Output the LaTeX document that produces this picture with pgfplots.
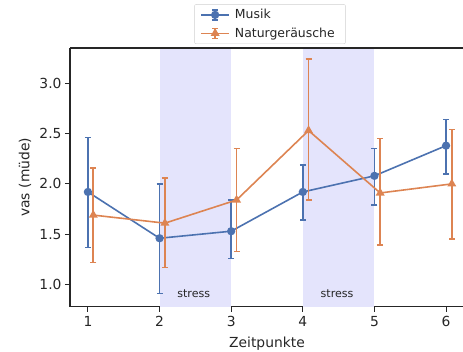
\documentclass[border=0pt]{standalone}
\usepackage{pgfplots}
\pgfplotsset{compat=1.18}
\usepackage{fontspec}
\setmainfont{DejaVu Sans}
\definecolor{sbblue}{RGB}{76,114,176}
\definecolor{sborange}{RGB}{221,132,82}
\definecolor{span}{RGB}{228,228,252}
\definecolor{dark}{RGB}{38,38,38}
\begin{document}
\begin{tikzpicture}
\useasboundingbox (0,0) rectangle (463bp,352bp);
\begin{axis}[
  at={(70bp,45.3bp)}, anchor=south west,
  scale only axis, width=394bp, height=258.7bp,
  xmin=0.75, xmax=6.25, ymin=0.78, ymax=3.35,
  axis x line*=bottom, axis y line*=left,
  axis line style={dark, line width=1.1bp},
  xtick={1,2,3,4,5,6}, ytick={1.0,1.5,2.0,2.5,3.0},
  yticklabel style={/pgf/number format/.cd, fixed, fixed zerofill, precision=1},
  /pgf/number format/assume math mode=true,
  tick align=outside, major tick length=5bp,
  tick style={dark, line width=1bp},
  ticklabel style={font=\fontsize{13.9}{16}\selectfont, text=dark},
  xticklabel style={yshift=-1bp},
  xlabel={Zeitpunkte}, ylabel={vas (müde)},
  label style={font=\fontsize{13.9}{16}\selectfont, text=dark},
  xlabel style={at={(rel axis cs:0.5,0)}, anchor=base, yshift=-40.7bp},
  ylabel style={at={(axis description cs:-0.1142,0.5)}, anchor=center},
  clip=false,
  legend style={at={(rel axis cs:0.5,1)}, anchor=south, yshift=4bp, xshift=3bp,
    draw=black!18, rounded corners=2bp, fill=white,
    font=\fontsize{12.5}{14}\selectfont, text=dark,
    row sep=3.5bp, inner xsep=6bp, inner ysep=3bp,
    nodes={inner xsep=5bp}},
  legend cell align=left,
  legend image code/.code={
    \draw[#1] (0bp,0bp) -- (28bp,0bp);
    \draw[#1] (14bp,-5bp) -- (14bp,5bp) (11bp,5bp) -- (17bp,5bp) (11bp,-5bp) -- (17bp,-5bp);
    \draw[mark repeat=2,mark phase=2,#1] plot coordinates {(0bp,0bp) (14bp,0bp) (28bp,0bp)};
  },
]
\fill[span] (axis cs:2,0.78) rectangle (axis cs:3,3.35);
\fill[span] (axis cs:4,0.78) rectangle (axis cs:5,3.35);
\draw[dark, line width=1.1bp] (rel axis cs:0,1) -- (rel axis cs:1.01,1);
\node[anchor=base west, font=\fontsize{11.1}{13}\selectfont, text=dark] at (axis cs:2.2,0.868) {stress};
\node[anchor=base west, font=\fontsize{11.1}{13}\selectfont, text=dark] at (axis cs:4.2,0.868) {stress};
\addplot[sbblue, line width=1.6bp, mark=*, mark size=3.3bp, mark options={solid, fill=sbblue},
  error bars/.cd, y dir=both, y explicit, error mark=-,
  error bar style={line width=1.6bp, sbblue}, error mark options={rotate=90, line width=1.6bp, mark size=3bp, sbblue}]
  coordinates {
  (1,1.92) += (0,0.54) -= (0,0.55)
  (2,1.46) += (0,0.54) -= (0,0.55)
  (3,1.53) += (0,0.31) -= (0,0.27)
  (4,1.92) += (0,0.27) -= (0,0.28)
  (5,2.08) += (0,0.27) -= (0,0.29)
  (6,2.38) += (0,0.26) -= (0,0.28)
  };
\addlegendentry{Musik}
\addplot[sborange, line width=1.6bp, mark=triangle*, mark size=3.6bp, mark options={solid, fill=sborange},
  error bars/.cd, y dir=both, y explicit, error mark=-,
  error bar style={line width=1.6bp, sborange}, error mark options={rotate=90, line width=1.6bp, mark size=3bp, sborange}]
  coordinates {
  (1.075,1.69) += (0,0.47) -= (0,0.47)
  (2.075,1.61) += (0,0.45) -= (0,0.44)
  (3.075,1.84) += (0,0.51) -= (0,0.51)
  (4.08,2.53) += (0,0.71) -= (0,0.69)
  (5.08,1.91) += (0,0.54) -= (0,0.52)
  (6.08,2.00) += (0,0.54) -= (0,0.55)
  };
\addlegendentry{Naturgeräusche}
\end{axis}
\end{tikzpicture}
\end{document}
